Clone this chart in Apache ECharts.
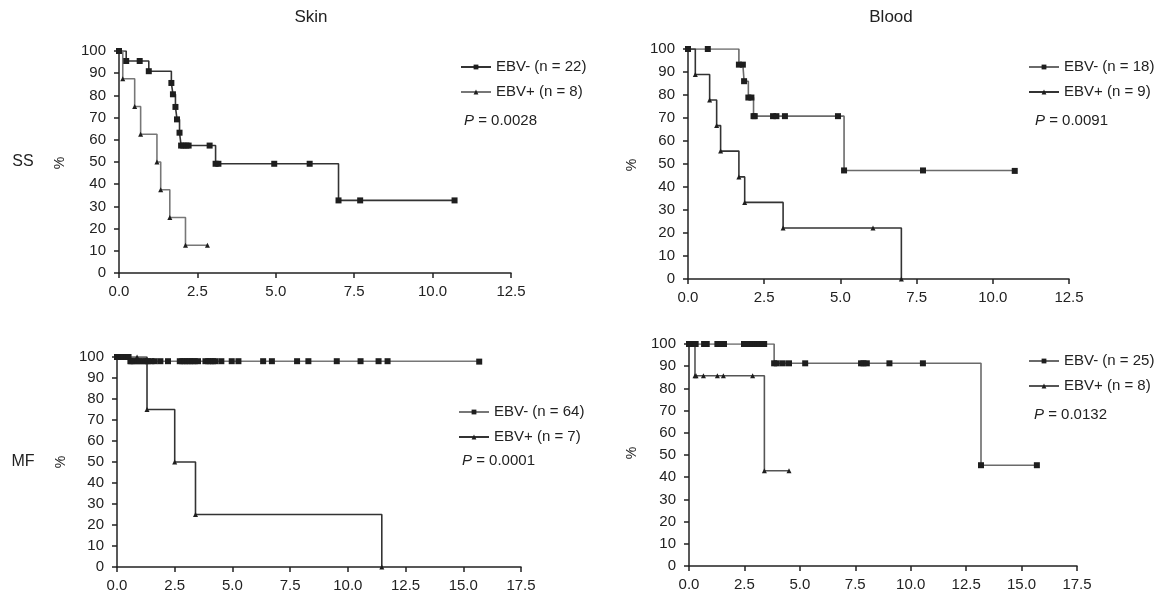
<!DOCTYPE html>
<html lang="en">
<head>
    <meta charset="UTF-8">
    <title>Skin / Blood survival</title>
    <script type="text/javascript" src="https://cdn.jsdelivr.net/npm/echarts@6/dist/echarts.min.js"></script>
    <style>
        html, body {margin: 0; padding: 0; background: #fff;}
        #ec {width: 1175px; height: 596px;}
    </style>
</head>
<body>
<div id="ec"></div>
<script>
    // Skin, SS
    var skinSS_negT = [0, 0.23, 0.66, 0.95, 1.67, 1.72, 1.80, 1.85, 1.93, 1.98, 2.05, 2.15, 2.22, 2.89, 3.08, 3.17, 4.95, 6.08, 7.0, 7.69, 10.7];
    var skinSS_negS = [100, 95.5, 95.5, 90.9, 85.6, 80.5, 74.8, 69.2, 63.2, 57.4, 57.4, 57.4, 57.4, 57.4, 49.2, 49.2, 49.2, 49.2, 32.7, 32.7, 32.7];
    var skinSS_posT = [0, 0.12, 0.5, 0.69, 1.21, 1.33, 1.62, 2.12, 2.82];
    var skinSS_posS = [100, 87.5, 75, 62.5, 50, 37.5, 25, 12.5, 12.5];
    // Blood, SS
    var bloodSS_negT = [0, 0.65, 1.67, 1.80, 1.84, 1.98, 2.08, 2.15, 2.19, 2.79, 2.9, 3.18, 4.92, 5.12, 7.71, 10.72];
    var bloodSS_negS = [100, 100, 93.2, 93.2, 86, 78.9, 78.9, 70.8, 70.8, 70.8, 70.8, 70.8, 70.8, 47.2, 47.2, 47];
    var bloodSS_posT = [0, 0.24, 0.71, 0.94, 1.07, 1.67, 1.86, 3.12, 6.07, 7.0];
    var bloodSS_posS = [100, 88.9, 77.8, 66.7, 55.6, 44.4, 33.3, 22.2, 22.2, 0];
    // Skin, MF
    var skinMF_negT = [0, 0.1, 0.2, 0.3, 0.4, 0.5, 0.58, 0.62, 0.72, 0.87, 0.98, 1.13, 1.24, 1.34, 1.49, 1.63, 1.88, 2.21, 2.72, 2.83, 2.93, 3.05, 3.15, 3.27, 3.37, 3.51, 3.83, 3.95, 4.05, 4.16, 4.26, 4.52, 4.97, 5.26, 6.33, 6.71, 7.80, 8.29, 9.52, 10.55, 11.33, 11.72, 15.69];
    var skinMF_negS = [100, 100, 100, 100, 100, 100, 98, 98, 98, 98, 98, 98, 98, 98, 98, 98, 98, 98, 98, 98, 98, 98, 98, 98, 98, 98, 98, 98, 98, 98, 98, 98, 98, 98, 98, 98, 98, 98, 98, 98, 98, 98, 97.8];
    var skinMF_posT = [0, 0.87, 1.3, 2.5, 3.4, 11.47];
    var skinMF_posS = [100, 100, 75, 50, 25, 0];
    // Blood, MF
    var bloodMF_negT = [0, 0.23, 0.30, 0.68, 0.80, 1.28, 1.35, 1.47, 1.58, 2.48, 2.75, 2.86, 2.98, 3.08, 3.2, 3.3, 3.39, 3.84, 3.96, 4.23, 4.51, 5.24, 7.76, 7.87, 8.02, 9.04, 10.55, 13.17, 15.69];
    var bloodMF_negS = [100, 100, 100, 100, 100, 100, 100, 100, 100, 100, 100, 100, 100, 100, 100, 100, 100, 91.3, 91.3, 91.3, 91.3, 91.3, 91.3, 91.3, 91.3, 91.3, 91.3, 45.4, 45.4];
    var bloodMF_posT = [0, 0.27, 0.32, 0.65, 1.28, 1.55, 2.87, 3.40, 4.51];
    var bloodMF_posS = [100, 85.7, 85.7, 85.7, 85.7, 85.7, 85.7, 42.9, 42.9];

    var legendNames = {
        s1n: 'EBV- (n = 22)', s1p: 'EBV+ (n = 8)',
        s2n: 'EBV- (n = 18)', s2p: 'EBV+ (n = 9)',
        s3n: 'EBV- (n = 64)', s3p: 'EBV+ (n = 7)',
        s4n: 'EBV- (n = 25)', s4p: 'EBV+ (n = 8)'
    };
    var pValues = ['0.0028', '0.0091', '0.0001', '0.0132'];
    var yTicks = [0, 100, 10];

    var FONT = '"Liberation Sans", Arial, Helvetica, sans-serif';
    var AX = '#222';

    function km(t, s) {
        return t.map(function (v, i) { return [v, s[i]]; });
    }

    function xAxis(idx, max) {
        return {
            type: 'value', gridIndex: idx, min: 0, max: max, interval: 2.5,
            splitLine: {show: false},
            axisLine: {show: true, onZero: false, lineStyle: {color: AX, width: 1.5}},
            axisTick: {show: true, length: 5, lineStyle: {color: AX, width: 1.5}},
            axisLabel: {color: '#222', fontSize: 15, fontFamily: FONT, margin: 11,
                formatter: function (v) { return v.toFixed(1); }}
        };
    }

    function yAxis(idx) {
        return {
            type: 'value', gridIndex: idx, min: yTicks[0], max: yTicks[1], interval: yTicks[2],
            splitLine: {show: false},
            axisLine: {show: true, onZero: false, lineStyle: {color: AX, width: 1.5}},
            axisTick: {show: true, length: 5, lineStyle: {color: AX, width: 1.5}},
            axisLabel: {color: '#222', fontSize: 15, fontFamily: FONT, margin: 13}
        };
    }

    function line(name, idx, data, sym, lineColor) {
        return {
            name: name, type: 'line', xAxisIndex: idx, yAxisIndex: idx,
            step: 'end', data: data, symbol: sym, symbolSize: sym === 'rect' ? 6 : 5,
            lineStyle: {color: lineColor, width: 1.6},
            itemStyle: {color: '#1e1e1e'},
            animation: false
        };
    }

    function legend(names, left, top) {
        return {
            data: names, left: left, top: top, orient: 'vertical',
            itemWidth: 30, itemHeight: 6, itemGap: 9, padding: 0,
            selectedMode: false,
            textStyle: {fontSize: 15, fontFamily: FONT, color: '#222', lineHeight: 16},
            formatter: function (n) { return legendNames[n]; }
        };
    }

    function txt(x, y, text, size, align, rot) {
        return {
            type: 'text', x: x, y: y, rotation: rot || 0,
            style: {text: text, fontSize: size, fontFamily: FONT, fill: '#222',
                align: align || 'center', verticalAlign: 'middle'}
        };
    }

    function pText(x, y, v) {
        return {
            type: 'text', x: x, y: y,
            style: {text: '{i|P} = ' + v, fontSize: 15, fontFamily: FONT, fill: '#222',
                align: 'left', verticalAlign: 'middle',
                rich: {i: {fontStyle: 'italic', fontSize: 15, fontFamily: FONT, fill: '#222'}}}
        };
    }

    var chart = echarts.init(document.getElementById('ec'));
    chart.setOption({
        backgroundColor: '#fff',
        animation: false,
        grid: [
            {left: 119, top: 51, width: 392, height: 222},
            {left: 688, top: 49, width: 381, height: 230},
            {left: 117, top: 357, width: 404, height: 210},
            {left: 689, top: 344, width: 388, height: 222}
        ],
        xAxis: [xAxis(0, 12.5), xAxis(1, 12.5), xAxis(2, 17.5), xAxis(3, 17.5)],
        yAxis: [yAxis(0), yAxis(1), yAxis(2), yAxis(3)],
        legend: [
            legend(['s1n', 's1p'], 460, 59),
            legend(['s2n', 's2p'], 1028, 59),
            legend(['s3n', 's3p'], 458, 404),
            legend(['s4n', 's4p'], 1028, 353)
        ],
        series: [
            line('s1n', 0, km(skinSS_negT, skinSS_negS), 'rect', '#333'),
            line('s1p', 0, km(skinSS_posT, skinSS_posS), 'triangle', '#777'),
            line('s2n', 1, km(bloodSS_negT, bloodSS_negS), 'rect', '#6a6a6a'),
            line('s2p', 1, km(bloodSS_posT, bloodSS_posS), 'triangle', '#333'),
            line('s3n', 2, km(skinMF_negT, skinMF_negS), 'rect', '#777'),
            line('s3p', 2, km(skinMF_posT, skinMF_posS), 'triangle', '#333'),
            line('s4n', 3, km(bloodMF_negT, bloodMF_negS), 'rect', '#6a6a6a'),
            line('s4p', 3, km(bloodMF_posT, bloodMF_posS), 'triangle', '#555')
        ],
        graphic: [
            txt(311, 17, 'Skin', 17),
            txt(891, 17, 'Blood', 17),
            txt(23, 162, 'SS', 16),
            txt(23, 462, 'MF', 16),
            txt(60, 163, '%', 14, 'center', Math.PI / 2),
            txt(632, 165, '%', 14, 'center', Math.PI / 2),
            txt(61, 462, '%', 14, 'center', Math.PI / 2),
            txt(632, 453, '%', 14, 'center', Math.PI / 2),
            pText(464, 121, pValues[0]),
            pText(1035, 121, pValues[1]),
            pText(462, 461, pValues[2]),
            pText(1034, 415, pValues[3])
        ]
    });
</script>
</body>
</html>
